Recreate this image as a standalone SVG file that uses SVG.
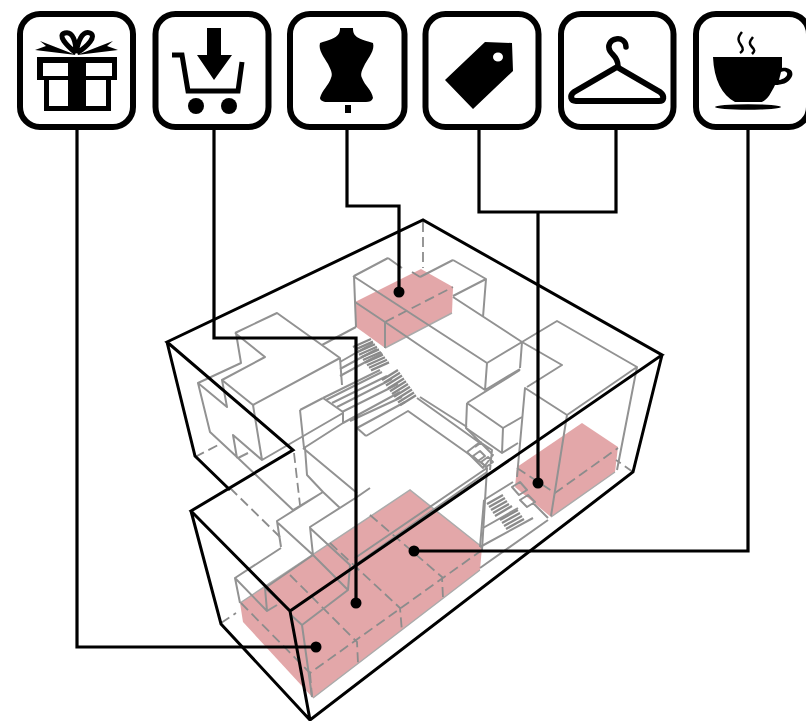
<svg xmlns="http://www.w3.org/2000/svg" width="806" height="721" viewBox="0 0 806 721">
<style>
.frame{fill:#fff;stroke:#000;stroke-width:6}
.k{fill:#000;stroke:none}
.w{fill:#fff;stroke:none}
.g{fill:none;stroke:#929292;stroke-width:2;stroke-linejoin:round}
.d{fill:none;stroke:#8c8c8c;stroke-width:1.8;stroke-dasharray:10 5}
.red{fill:#e3a7a9;stroke:none}
.e{fill:none;stroke:#ababab;stroke-width:1.5}
.b{fill:none;stroke:#000;stroke-width:3;stroke-linejoin:miter}
.c{fill:none;stroke:#000;stroke-width:3.200}
.s{fill:none;stroke:#8a8a8a;stroke-width:2.300}
</style>
<rect width="806" height="721" fill="#fff"/>
<g id="building">
<g id="rooms">
<polygon class="red" points="355,302 421,269 453,287 452,313 385,348 356,327"/>
<polygon class="red" points="517,467 582,423 618,447 615,472 551,517 515,487"/>
<polygon class="red" points="240,603 410,490 482,547 480,570 313,698 243,622"/>
<path class="e" d="M313,698L480,570M240,603L410,490L482,547M551,517L615,472M385,348L452,313"/>
</g>
<g id="dashes">
<path class="d" d="M423,222V268M420,277L412,272M385,322L453,287M195,457L222,443M230,488L281,538M221,623L236,613M294,453L300,505M633,472L616,460"/>
<path class="d" d="M517,468L555,493L618,448"/>
<path class="d" d="M241,603L310,673L482,550M310,673L312,697M290,575L357,642L358,663M370,515L442,577L443,598M330,543L400,608L402,632"/>
</g>
<g id="walls">
<path class="g" d="M354,276L388,258M388,258L402,268M353,276L487,363M354,276L356,327M355,302L385,322L385,348M385,322L485,390M453,260L486,279L483,317M486,279L453,296M453,260L420,277M453,297L522,342M487,363L522,342L520,368M487,363L485,390L520,369"/>
<path class="g" d="M522,342L557,321L637,367L567,415L525,388L517,477M637,367L617,470M567,415L551,516M522,342L562,365L527,387"/>
<path class="g" d="M467,403L520,370M467,403L503,428L522,417M467,403L466,428L502,453L518,443M503,428L502,453"/>
<path class="g" d="M235,333L277,313L340,358M235,333L265,357L222,380L253,405L340,358L342,385M236,333L241,363L198,383L227,407L222,380M198,383L210,432L238,458L248,453M253,405L262,460L233,435L237,458M262,460L343,413M322,345L356,327"/>
<path class="g" d="M300,410L323,398M300,410L304,448L343,423V412L323,398M303,448L357,493M305,448L307,475L323,492L277,521L281,547M278,523L313,555M323,492L340,508M357,497L310,527L313,555M310,528L350,565L348,590L302,625L312,697M313,555L348,590M313,555L265,588L267,611L235,578L240,603M235,578L281,548M265,588L290,610M267,611L277,605M302,625L291,615M238,458L293,510L323,492M357,497L370,488"/>
<path class="g" d="M355,558L487,468L482,550M355,565L487,472M366,436L408,411L487,467M366,436L357,428M420,397L467,427M417,398L480,443M466,428L480,442M480,568L548,520"/>
<path class="g" d="M340,362L373,343M340,369L377,349M340,376L382,353M323,398L380,370M326,400L382,372M332,403L387,376M337,407L392,379M342,412L398,384M343,423L400,392M350,421L402,397M357,428L405,402"/>
<path class="g" d="M467,452L480,442L493,455L483,468L467,452M475,447L482,442M480,451L473,456L478,461L485,456ZM488,457L481,462L486,467L493,462ZM477,440L492,450L490,470"/>
<path class="g" d="M484,500L513,482M484,500L480,547M483,528L518,508M480,547L533,518M533,503L548,518M512,487L520,482L527,490L519,495ZM520,500L528,495L535,502L527,507Z"/>
<path class="s" d="M353,347l18,-8m-16,10.600l18,-8m-16,10.600l18,-8m-16,10.600l18,-8m-16,10.600l18,-8m-16,10.600l18,-8m-16,10.600l18,-8m-16,10.600l18,-8m-16,10.600l18,-8m-16,10.600l18,-8"/>
<path class="s" d="M382,380l16,-10m-14,12.800l16,-10m-14,12.800l16,-10m-14,12.800l16,-10m-14,12.800l16,-10m-14,12.800l16,-10m-14,12.800l16,-10m-14,12.800l16,-10m-14,12.800l16,-10m-14,12.800l16,-10"/>
<path class="s" d="M487,504l16,-9m-14,12l16,-9m-14,12l16,-9m-14,12l16,-9m-14,12l17,-10m-12,14l18,-10m-16,13l18,-10m-16,13l18,-10m-16,13l18,-10"/>
</g>
<g id="box">
<path class="b" d="M191,511L290,611L662,355L423,220L167,342L293,450L191,511ZM167,342L195,456L230,490M191,511L221,624L310,720L633,472L662,355M290,611L310,720"/>
</g>
</g>
<g id="connectors">
<path class="c" d="M77,129V647H316"/>
<path class="c" d="M214,129V338H356V603"/>
<path class="c" d="M347,129V206H399V292"/>
<path class="c" d="M479,129V212H616V129M538,212V483"/>
<path class="c" d="M748,129V551H414"/>
<circle class="k" cx="316" cy="647" r="5.500"/>
<circle class="k" cx="356" cy="603" r="5.500"/>
<circle class="k" cx="399" cy="292" r="5.500"/>
<circle class="k" cx="538" cy="483" r="5.500"/>
<circle class="k" cx="414" cy="551" r="5.500"/>
</g>
<g id="gift">
<rect class="frame" x="20" y="14" width="113" height="113" rx="20"/>
<path class="k" d="M37,57H117V80H111V111H44V80H37Z"/>
<path class="w" d="M43,63H68V76H43ZM86,63H112V76H86ZM49,80H68V106H49ZM86,80H106V106H86Z"/>
<path class="k" d="M76,55L35,50L46,46L40,41ZM77,55L118,50L107,46L113,41Z"/>
<path fill="none" stroke="#000" stroke-width="5" d="M76,53C66,45 57,35 65,33C73,31 76,42 76,53C78,42 82,30 90,33C97,36 88,46 77,53"/>
</g>
<g id="cart">
<rect class="frame" x="155.500" y="14" width="113" height="113" rx="20"/>
<path class="k" d="M207,28H221V55H232L214,80L197,55H207Z"/>
<path fill="none" stroke="#000" stroke-width="5" d="M172,55H182L188,91H238L242,62"/>
<circle class="k" cx="196" cy="106" r="8"/>
<circle class="k" cx="229" cy="106" r="8"/>
</g>
<g id="dressform">
<rect class="frame" x="290" y="14" width="114.500" height="113" rx="20"/>
<path class="k" d="M340,28H353C353,36 356,38 373,43C375,50 369,57 365,64C362,70 360,74 362,78C365,86 372,90 373,98C372,101 369,102 366,102H327C323,102 320,100 320,98C322,90 329,85 331,78C333,74 331,70 328,64C324,57 318,50 320,43C336,38 340,36 340,28Z"/>
<rect class="k" x="345" y="105" width="6" height="8"/>
</g>
<g id="tag">
<rect class="frame" x="425.500" y="14" width="113" height="113" rx="20"/>
<path class="k" fill-rule="evenodd" d="M485,42L512,43L513,71L473,109L445,80ZM493,57a5,4.500 0 1 0 10,0a5,4.500 0 1 0 -10,0Z"/>
</g>
<g id="hanger">
<rect class="frame" x="561" y="14" width="112.500" height="113" rx="20"/>
<path fill="none" stroke="#000" stroke-width="6" stroke-linejoin="round" d="M617,67L660,92C665,96 664,101 659,101H576C571,101 569,96 574,92Z"/>
<path fill="none" stroke="#000" stroke-width="5.500" stroke-linecap="round" d="M626,47C626,41 621,38 616,39C610,40 607,46 610,51C612,55 618,57 618,66"/>
</g>
<g id="cup">
<rect class="frame" x="696" y="14" width="113" height="113" rx="20"/>
<path class="k" d="M713,57H782V68C790,67 795,72 791,78C788,83 782,85 775,85C771,93 768,99 762,102H735C722,95 714,80 713,57ZM781,72L779,80C784,79 788,76 787,73C786,71 783,71 781,72Z"/>
<ellipse class="k" cx="748" cy="107" rx="33" ry="2.800"/>
<path fill="none" stroke="#000" stroke-width="2.500" d="M742,32C737,38 738,41 741,45C744,49 743,51 740,53M753,37C749,42 749,44 752,47C755,50 755,51 752,54"/>
</g>
</svg>
